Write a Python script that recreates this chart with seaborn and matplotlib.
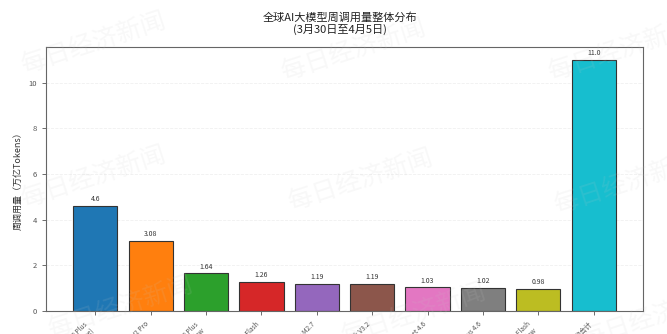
import matplotlib
matplotlib.use("Agg")
import matplotlib.pyplot as plt
import seaborn as sns
import pandas as pd

models = ["Qwen3.6 Plus\n(free)", "MiMo V2 Pro", "Qwen3.6 Plus\nPreview", "Step 3.5 Flash",
          "MiniMax M2.7", "DeepSeek V3.2", "Claude Sonnet 4.6", "Claude Opus 4.6",
          "Gemini 3 Flash\nPreview", "其他合计"]
usage = [4.6, 3.08, 1.64, 1.26, 1.19, 1.19, 1.03, 1.02, 0.98, 11.0]

sns.set_theme(style="ticks")
plt.rcParams['font.family'] = ['Noto Sans CJK SC', 'DejaVu Sans']
plt.rcParams['axes.unicode_minus'] = False

df = pd.DataFrame({"model": models, "usage": usage})

fig = plt.figure(figsize=(6.67, 3.34), dpi=100)
ax = fig.add_axes([0.069, 0.069, 0.895, 0.79])

sns.barplot(data=df, x="model", y="usage", hue="model", palette="tab10", legend=False,
            saturation=1, edgecolor="#333333", linewidth=0.8, width=0.8, ax=ax)

for i, v in enumerate(usage):
    ax.text(i, v + 0.12, str(v), ha="center", va="bottom", fontsize=5, color="#333333")

ax.set_ylim(0, 11.55)
ax.set_xlim(-0.89, 9.89)
ax.set_xlabel("")
ax.set_ylabel("周调用量（万亿Tokens）", fontsize=6.5, color="#333333")
ax.tick_params(axis="y", labelsize=5.5, colors="#555555", length=3, width=0.6)
ax.tick_params(axis="x", labelsize=4.8, colors="#555555", length=3, width=0.6)
plt.setp(ax.get_xticklabels(), rotation=45, ha="right")
ax.set_yticks([0, 2, 4, 6, 8, 10])
ax.grid(axis="y", linestyle="--", alpha=0.3, linewidth=0.6)
ax.set_axisbelow(True)
for s in ax.spines.values():
    s.set_visible(True)
    s.set_color("#666666")
    s.set_linewidth(0.8)

fig.suptitle("全球AI大模型周调用量整体分布\n(3月30日至4月5日)", fontsize=8, y=0.965,
             x=0.51, color="#222222", linespacing=1.15)

wm = [(0.14, 0.87), (0.53, 0.85), (0.93, 0.85), (0.14, 0.47), (0.54, 0.46), (0.94, 0.45),
      (0.18, 0.08), (0.62, 0.06), (0.98, 0.05)]
for x, y in wm:
    fig.text(x, y, "每日经济新闻", fontsize=18, color="#c8c8c8", alpha=0.12, rotation=18,
             ha="center", va="center", zorder=10)

fig.savefig("out.png", dpi=100)
